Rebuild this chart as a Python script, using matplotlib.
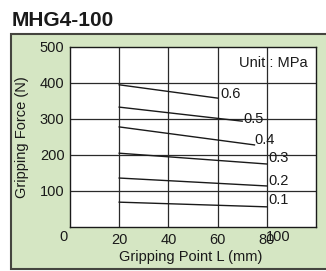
import matplotlib.pyplot as plt
import matplotlib.patches as patches

plt.rcParams['font.family'] = ['Liberation Sans', 'DejaVu Sans']

# pressure curves (MPa) : gripping point L -> gripping force
pressures = ["0.6", "0.5", "0.4", "0.3", "0.2", "0.1"]
x_start = [20, 20, 20, 20, 20, 20]
x_end = [60, 70, 75, 80, 80, 80]
f_start = [395, 333, 278, 205, 136, 69]
f_end = [358, 294, 228, 175, 114, 56]
# label anchor (left, middle)
label_x = [61, 70.3, 74.8, 80.5, 80.5, 80.5]
label_y = [369, 300, 242, 192, 128, 75]

x_ticks = [20, 40, 60, 80]
y_ticks = [100, 200, 300, 400, 500]

W, H = 326, 271
fig = plt.figure(figsize=(W / 100, H / 100), dpi=100)

# green panel behind the chart
panel = patches.Rectangle((11 / W, 1 - 269 / H), 330 / W, 235 / H,
                          transform=fig.transFigure, facecolor='#d5e6c3',
                          edgecolor='#45453f', linewidth=1.5, zorder=-10)
fig.patches.append(panel)

fig.text(12 / W, 1 - 26 / H, 'MHG4-100', fontsize=15, fontweight='bold',
         color='#1a1a1a', va='baseline', ha='left')

ax = fig.add_axes([70 / W, 1 - 227 / H, 246 / W, 180 / H])
ax.set_facecolor('white')
ax.set_xlim(0, 100)
ax.set_ylim(0, 500)

for xv in x_ticks:
    ax.axvline(xv, color='#2a2a2a', lw=0.9, zorder=1)
for yv in y_ticks[:-1]:
    ax.axhline(yv, color='#2a2a2a', lw=0.9, zorder=1)

for i, p in enumerate(pressures):
    ax.plot([x_start[i], x_end[i]], [f_start[i], f_end[i]], color='#1a1a1a', lw=1.0, zorder=2)
    ax.text(label_x[i], label_y[i], p, fontsize=10.5, ha='left', va='center', color='#1a1a1a', zorder=3)

ax.text(68.7, 456, 'Unit : MPa', fontsize=10.5, ha='left', va='center', color='#1a1a1a')

ax.set_xticks(x_ticks)
ax.set_xticklabels([str(v) for v in x_ticks])
ax.set_yticks(y_ticks)
ax.set_yticklabels([str(v) for v in y_ticks])
ax.tick_params(length=0, labelsize=10.5, colors='#1a1a1a', pad=4)
ax.text(-2.8, -28, '0', fontsize=10.5, ha='center', va='center', color='#1a1a1a', clip_on=False)
# the "100" label sits over the "80" in the original
ax.text(84.5, -28, '100', fontsize=10.5, ha='center', va='center', color='#1a1a1a', clip_on=False)

for s in ax.spines.values():
    s.set_color('#1a1a1a')
    s.set_linewidth(1.0)

fig.text(191 / W, 1 - 257 / H, 'Gripping Point L (mm)', fontsize=10.5,
         ha='center', va='center', color='#1a1a1a')
fig.text(22.5 / W, 1 - 137 / H, 'Gripping Force (N)', fontsize=10.5, rotation=90,
         ha='center', va='center', color='#1a1a1a')

fig.savefig('out.png', dpi=100)
